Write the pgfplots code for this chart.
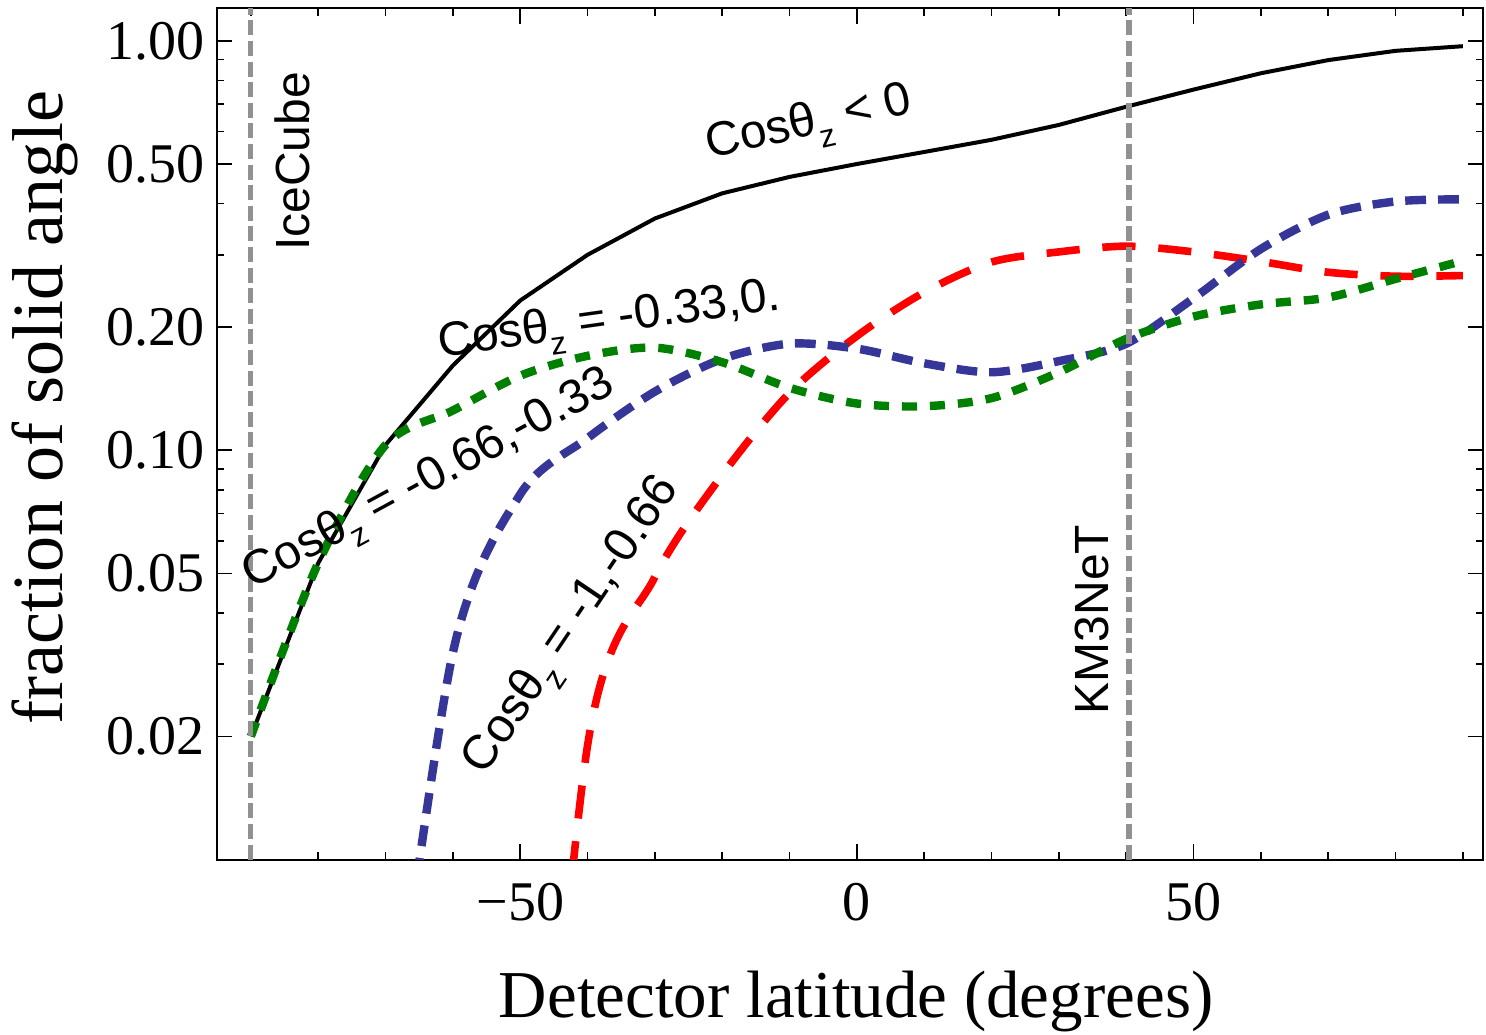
\documentclass[border=0pt]{standalone}
\usepackage{pgfplots}
\pgfplotsset{compat=1.18}
\usepackage{fontspec}
\setmainfont{Liberation Serif}
\newfontfamily\lsans{Liberation Sans}
\definecolor{mgreen}{rgb}{0,0.5,0}
\definecolor{mblue}{rgb}{0.21,0.21,0.6}
\definecolor{mgray}{gray}{0.57}
\newcommand\sz{\raisebox{-3.6pt}{\fontsize{8}{9}\selectfont z}}
\tikzset{lab/.style={anchor=base, inner sep=0pt, font=\lsans\fontsize{12}{14}\selectfont}}
\begin{document}
\begin{tikzpicture}
\useasboundingbox (-54.3pt,-43.7pt) rectangle (317.15pt,214.85pt);
\begin{axis}[
  at={(0,0)}, anchor=south west,
  scale only axis, width=316.4pt, height=212.75pt,
  xmin=-95, xmax=93, ymin=0.01, ymax=1.2, ymode=log,
  xtick={-50,0,50}, xticklabels={−50,0,50},
  minor xtick={-90,-80,...,90},
  ytick={0.02,0.05,0.1,0.2,0.5,1},
  yticklabels={0.02,0.05,0.10,0.20,0.50,1.00},
  minor ytick={0.03,0.04,0.06,0.07,0.08,0.09,0.3,0.4,0.6,0.7,0.8,0.9},
  major tick length=3.8pt, minor tick length=1.8pt,
  tick style={black, line width=0.4pt},
  tick label style={font=\fontsize{14}{16}\selectfont},
  xticklabel style={inner sep=0pt, yshift=-5.75pt, anchor=north},
  yticklabel style={inner sep=0pt, xshift=-3pt, anchor=east},
  axis line style={line width=0.5pt},
]
\addplot[black, line width=1pt] coordinates {
(-90,0.02) (-80,0.053) (-70,0.103) (-60,0.161) (-50,0.232) (-40,0.30) (-30,0.368)
(-20,0.424) (-10,0.465) (0,0.50) (10,0.535) (20,0.573) (30,0.623) (40,0.69)
(50,0.76) (60,0.833) (70,0.897) (80,0.945) (90,0.97)};
\addplot[red, line width=1.9pt, dash pattern=on 8.3pt off 5.7pt, smooth] coordinates {
(-50,0.0004) (-40,0.019) (-30,0.049) (-20,0.087) (-10,0.138) (0,0.19) (10,0.243)
(20,0.288) (30,0.305) (40,0.315) (50,0.305) (60,0.289) (70,0.272) (80,0.266) (90,0.267)};
\addplot[mblue, line width=2.1pt, dash pattern=on 5.2pt off 3pt, smooth] coordinates {
(-70,0.0025) (-60,0.032) (-50,0.078) (-40,0.107) (-30,0.139) (-20,0.167) (-10,0.182)
(0,0.177) (10,0.163) (20,0.155) (30,0.165) (40,0.182) (50,0.235) (60,0.31)
(70,0.376) (80,0.405) (90,0.41)};
\addplot[mgreen, line width=2.1pt, dash pattern=on 3.75pt off 3.25pt, smooth] coordinates {
(-90,0.02) (-80,0.053) (-70,0.103) (-60,0.125) (-50,0.152) (-40,0.17) (-30,0.178)
(-20,0.164) (-10,0.142) (0,0.13) (10,0.128) (20,0.134) (30,0.155) (40,0.187)
(50,0.212) (60,0.227) (70,0.236) (80,0.262) (90,0.29)};
\addplot[mgray, line width=1.3pt, dash pattern=on 3.75pt off 1.4pt] coordinates {(-90,0.01) (-90,1.2)};
\addplot[mgray, line width=1.3pt, dash pattern=on 3.75pt off 1.4pt] coordinates {(40.4,0.01) (40.4,1.2)};
\node[lab, rotate=12.5] at (axis cs:-6.7,0.586) {Cosθ\sz{} < 0};
\node[lab, rotate=8] at (axis cs:-36.5,0.193) {Cosθ\sz{} = -0.33,0.};
\node[lab, rotate=28.5] at (axis cs:-62.7,0.0796) {Cosθ\sz{} = -0.66,-0.33};
\node[lab, rotate=56] at (axis cs:-40.8,0.0359) {Cosθ\sz{} = -1,-0.66};
\node[lab, rotate=90] at (axis cs:-81.3,0.507) {IceCube};
\node[lab, rotate=90] at (axis cs:37.4,0.0386) {KM3NeT};
\end{axis}
\node[anchor=base, inner sep=0pt, font=\fontsize{16.75}{18}\selectfont] at (159.7pt,-39.4pt) {Detector latitude (degrees)};
\node[anchor=base, inner sep=0pt, rotate=90, font=\fontsize{18}{20}\selectfont] at (-38.6pt,112.95pt) {fraction of solid angle};
\end{tikzpicture}
\end{document}
